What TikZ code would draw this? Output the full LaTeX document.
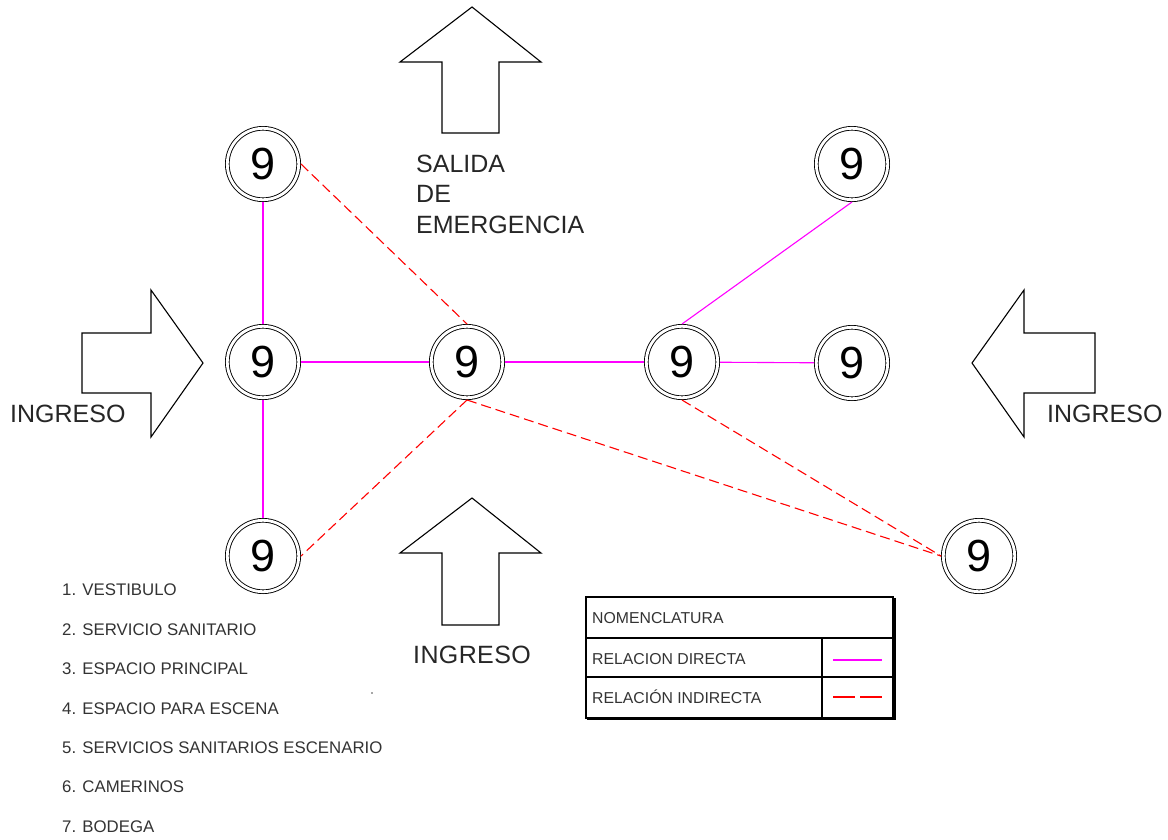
\documentclass[tikz,border=0pt]{standalone}
\usepackage{fontspec}
\setmainfont{Liberation Sans}
\begin{document}
\begin{tikzpicture}[x=1pt,y=-1pt,
  room/.style={circle,draw=black,double=white,double distance=2.8pt,line width=0.9pt,
    minimum size=71.4pt,inner sep=0pt,outer sep=2.3pt,font=\fontsize{45}{45}\selectfont},
  direct/.style={draw={rgb,255:red,255;green,0;blue,255},line width=1.1pt},
  indirect/.style={draw=red,line width=1.1pt,dash pattern=on 10pt off 5pt},
  bigarrow/.style={draw=black,line width=1.1pt,line join=miter},
  lbl/.style={font=\fontsize{25}{30}\selectfont,inner sep=0pt,anchor=base west,text=black!85},
  item/.style={font=\fontsize{16.8}{17}\selectfont,inner sep=0pt,anchor=base west,text=black!80},
  tab/.style={font=\fontsize{15.8}{16}\selectfont,inner sep=0pt,anchor=base west,text=black!80}]
\useasboundingbox (0,0) rectangle (1168,839);

% arrows
\draw[bigarrow] (472,7) -- (541,62) -- (499,62) -- (499,133) -- (442,133) -- (442,62) -- (400,62) -- cycle;
\draw[bigarrow] (472,498) -- (541,553) -- (499,553) -- (499,625) -- (442,625) -- (442,553) -- (400,553) -- cycle;
\draw[bigarrow] (203,363) -- (151,437) -- (151,393) -- (82,393) -- (82,333) -- (151,333) -- (151,290) -- cycle;
\draw[bigarrow] (972,363) -- (1024,437) -- (1024,393) -- (1095,393) -- (1095,333) -- (1024,333) -- (1024,290) -- cycle;

% labels
\node[lbl] (sal1) at (416,172) {SALIDA};
\node[lbl] (sal2) at (416,202) {DE};
\node[lbl] (sal3) at (416,233) {EMERGENCIA};
\node[lbl] (ingL) at (10,422) {INGRESO};
\node[lbl] (ingR) at (1047,422) {INGRESO};
\node[lbl,font=\fontsize{25}{30}\selectfont\addfontfeature{LetterSpace=1.5}] (ingB) at (413,663) {INGRESO};

% rooms
\node[room] (A) at (263,164) {9};
\node[room] (B) at (263,362) {9};
\node[room] (C) at (467,362) {9};
\node[room] (D) at (682,362) {9};
\node[room] (E) at (852,164) {9};
\node[room] (F) at (852,363) {9};
\node[room] (G) at (263,556) {9};
\node[room] (H) at (979,556) {9};

% direct relations
\draw[direct] (A) -- (B);
\draw[direct] (B) -- (G);
\draw[direct] (B) -- (C);
\draw[direct] (C) -- (D);
\draw[direct] (D) -- (F);
\draw[direct] (D.north) -- (E.south);

% indirect relations
\draw[indirect] (A.east) -- (C.north);
\draw[indirect] (C.south) -- (G.east);
\draw[indirect] (C.south) -- (H.west);
\draw[indirect] (D.south) -- (H.west);

% list
\node[item] (i1) at (62,595) {1. VESTIBULO};
\node[item] (i2) at (62,635) {2. SERVICIO SANITARIO};
\node[item] (i3) at (62,674) {3. ESPACIO PRINCIPAL};
\node[item] (i4) at (62,714) {4. ESPACIO PARA ESCENA};
\node[item] (i5) at (62,753) {5. SERVICIOS SANITARIOS ESCENARIO};
\node[item] (i6) at (62,792) {6. CAMERINOS};
\node[item] (i7) at (62,832) {7. BODEGA};
\fill[black!70] (372,693) circle (0.8pt);

% legend table
\draw[line width=1.1pt] (586,597) rectangle (893,718);
\draw[line width=1.4pt] (895,598) -- (895,719) -- (587,719);
\draw[line width=1.1pt] (586,638) -- (893,638);
\draw[line width=1.1pt] (586,677) -- (893,677);
\draw[line width=1.1pt] (822,638) -- (822,718);
\node[tab] (t1) at (592,623) {NOMENCLATURA};
\node[tab] (t2) at (592,664) {RELACION DIRECTA};
\node[tab] (t3) at (592,703) {RELACIÓN INDIRECTA};
\coordinate (l1a) at (833,660);
\coordinate (l1b) at (882,660);
\coordinate (l2a) at (833,697);
\coordinate (l2b) at (882,697);
\draw[direct] (l1a) -- (l1b);
\draw[indirect,dash pattern=on 22pt off 5pt] (l2a) -- (l2b);
\end{tikzpicture}
\end{document}
